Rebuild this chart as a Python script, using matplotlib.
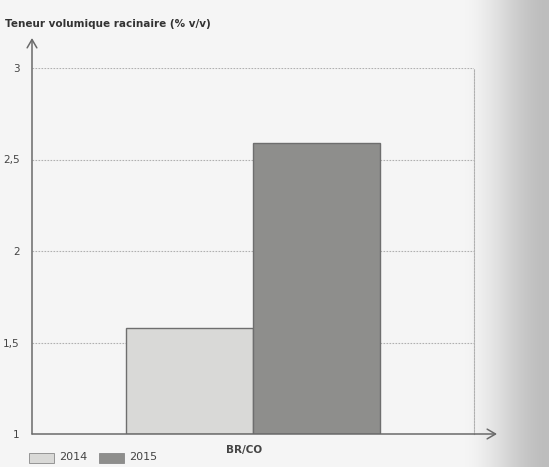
import matplotlib
matplotlib.use("Agg")
import matplotlib.pyplot as plt
import numpy as np
from matplotlib.patches import FancyArrowPatch, Rectangle

categories = ["BR/CO"]
years = ["2014", "2015"]
values_2014 = [1.58]
values_2015 = [2.59]
yticks = [1, 1.5, 2, 2.5, 3]
ytick_labels = ["1", "1,5", "2", "2,5", "3"]
colors = ["#d9d9d7", "#8e8e8c"]

W, H = 549, 467
fig = plt.figure(figsize=(W / 100, H / 100), dpi=100)
fig.patch.set_facecolor("#f5f5f3")

# scanned page shadow on the right edge
bg = fig.add_axes([0, 0, 1, 1], zorder=-10)
xs = np.linspace(0, 1, 600)
t = np.clip((xs - 0.84) / 0.16, 0, 1)
shade = t * t * (3 - 2 * t)
img = np.zeros((2, 600, 3))
base = 0.962 - 0.22 * shade
for k in range(3):
    img[:, :, k] = base
bg.imshow(img, aspect="auto", extent=[0, 1, 0, 1])
bg.set_xlim(0, 1)
bg.set_ylim(0, 1)
bg.axis("off")

left, right = 32 / W, 474 / W
bottom, top = 1 - 434 / H, 1 - 68 / H
ax = fig.add_axes([left, bottom, right - left, top - bottom])
ax.set_facecolor("none")

x = np.arange(len(categories)) + 0.5
w = 0.288
ax.bar(x - w / 2, [v - 1 for v in values_2014], w, bottom=1, color=colors[0],
       edgecolor="#6e6e6e", linewidth=1.0, label=years[0], zorder=3)
ax.bar(x + w / 2, [v - 1 for v in values_2015], w, bottom=1, color=colors[1],
       edgecolor="#6e6e6e", linewidth=1.0, label=years[1], zorder=3)

ax.set_xlim(0, 1)
ax.set_ylim(1, 3)
ax.set_yticks(yticks)
ax.set_yticklabels(ytick_labels, fontsize=7.5, color="#444444")
ax.set_xticks(x - 0.02)
ax.set_xticklabels(categories, fontsize=7.5, color="#444444", fontweight="bold")
ax.tick_params(axis="y", length=0, pad=9)
ax.tick_params(axis="x", length=0, pad=8)
for yv in yticks[1:]:
    ax.axhline(yv, color="#b0b0b0", linestyle=(0, (1.5, 1.2)), linewidth=0.8, zorder=1)

ax.spines["top"].set_visible(False)
ax.spines["right"].set_linestyle((0, (1.5, 1.2)))
ax.spines["right"].set_color("#b0b0b0")
ax.spines["right"].set_linewidth(0.8)
ax.spines["left"].set_visible(False)
ax.spines["bottom"].set_visible(False)

# axis arrows
ax_col = "#6a6a6a"
fig.add_artist(FancyArrowPatch((left, bottom), (left, 1 - 38 / H), transform=fig.transFigure,
                               arrowstyle="->,head_length=6,head_width=3.5", color=ax_col,
                               linewidth=1.1, shrinkA=0, shrinkB=0))
fig.add_artist(FancyArrowPatch((left, bottom), (497 / W, bottom), transform=fig.transFigure,
                               arrowstyle="->,head_length=6,head_width=3.5", color=ax_col,
                               linewidth=1.1, shrinkA=0, shrinkB=0))

fig.text(5 / W, 1 - 27 / H, "Teneur volumique racinaire (% v/v)", fontsize=7.5,
         fontweight="bold", color="#333333", ha="left", va="baseline")

# legend
ly = 1 - 463 / H
for i, (yr, c) in enumerate(zip(years, colors)):
    x0 = [29, 99][i] / W
    fig.add_artist(Rectangle((x0, ly), 25 / W, 10 / H, transform=fig.transFigure,
                             facecolor=c, edgecolor="#888888", linewidth=0.6))
    fig.text(x0 + 30 / W, ly + 1 / H, yr, fontsize=8, color="#444444",
             ha="left", va="bottom")

fig.savefig("out.png", dpi=100, facecolor=fig.get_facecolor())
